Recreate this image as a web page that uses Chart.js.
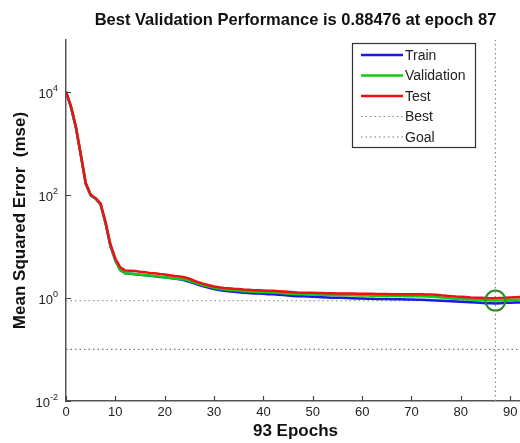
<!DOCTYPE html>
<html>
<head>
<meta charset="utf-8">
<script src="https://cdn.jsdelivr.net/npm/chart.js@4.4.1/dist/chart.umd.min.js"></script>
<style>
  html, body { margin: 0; padding: 0; background: #fff; overflow: hidden; }
  #wrap { width: 520px; height: 443px; overflow: hidden; }
</style>
</head>
<body>
<div id="wrap"><canvas id="perfChart" width="540" height="443"></canvas></div>
<script>
// --- dados ---
const titleText = 'Best Validation Performance is 0.88476 at epoch 87';
const xTitle = '93 Epochs';
const yTitle = 'Mean Squared Error  (mse)';

const epochs = Array.from({ length: 94 }, (_, i) => i);
const xTicks = [0, 10, 20, 30, 40, 50, 60, 70, 80, 90];
const yTickValues = [0.01, 1, 100, 10000];
const yTickExponents = ['-2', '0', '2', '4'];

const trainMse = [
  9800, 5000, 2000, 580, 160, 97, 84, 65, 28, 10,
  5.3, 3.45, 2.98, 2.92, 2.87, 2.8, 2.75, 2.68, 2.62, 2.55,
  2.5, 2.43, 2.36, 2.3, 2.2, 2.05, 1.92, 1.78, 1.66, 1.56,
  1.48, 1.42, 1.38, 1.34, 1.31, 1.29, 1.26, 1.24, 1.22, 1.21,
  1.2, 1.18, 1.17, 1.15, 1.13, 1.11, 1.09, 1.08, 1.07, 1.06,
  1.05, 1.04, 1.03, 1.02, 1.01, 1.0, 1.0, 0.99, 0.98, 0.97,
  0.97, 0.96, 0.96, 0.95, 0.95, 0.95, 0.94, 0.94, 0.94, 0.93,
  0.93, 0.92, 0.92, 0.91, 0.9, 0.89, 0.88, 0.87, 0.86, 0.85,
  0.84, 0.83, 0.82, 0.81, 0.8, 0.79, 0.79, 0.78, 0.79, 0.8,
  0.8, 0.81, 0.81, 0.82
];

const validationMse = [
  10000, 5100, 2050, 590, 165, 98, 85, 66, 29, 10.5,
  5.4, 3.5, 3.0, 2.95, 2.9, 2.82, 2.78, 2.7, 2.65, 2.58,
  2.52, 2.45, 2.38, 2.33, 2.28, 2.15, 2.0, 1.85, 1.74, 1.65,
  1.56, 1.5, 1.46, 1.42, 1.4, 1.38, 1.35, 1.33, 1.31, 1.3,
  1.29, 1.28, 1.27, 1.25, 1.23, 1.21, 1.19, 1.18, 1.17, 1.16,
  1.16, 1.15, 1.15, 1.14, 1.14, 1.13, 1.13, 1.12, 1.12, 1.11,
  1.11, 1.11, 1.1, 1.1, 1.1, 1.09, 1.09, 1.09, 1.09, 1.08,
  1.08, 1.08, 1.07, 1.06, 1.05, 1.04, 1.02, 0.99, 0.97, 0.96,
  0.95, 0.94, 0.93, 0.92, 0.91, 0.9, 0.89, 0.88476, 0.89, 0.9,
  0.91, 0.92, 0.93, 0.94
];

const testMse = [
  10000, 5200, 2100, 600, 170, 100, 86, 68, 30, 11,
  5.8, 3.9, 3.4, 3.35, 3.3, 3.2, 3.15, 3.05, 3.0, 2.9,
  2.85, 2.75, 2.65, 2.6, 2.5, 2.35, 2.15, 1.98, 1.85, 1.75,
  1.66, 1.6, 1.56, 1.53, 1.5, 1.48, 1.45, 1.43, 1.41, 1.4,
  1.39, 1.38, 1.37, 1.35, 1.33, 1.31, 1.29, 1.27, 1.26, 1.25,
  1.25, 1.24, 1.24, 1.23, 1.23, 1.22, 1.22, 1.21, 1.21, 1.2,
  1.2, 1.2, 1.2, 1.19, 1.19, 1.19, 1.18, 1.18, 1.18, 1.18,
  1.17, 1.17, 1.17, 1.16, 1.16, 1.15, 1.12, 1.1, 1.08, 1.06,
  1.05, 1.04, 1.02, 1.01, 1.0, 0.99, 0.98, 0.98, 0.99, 1.0,
  1.02, 1.03, 1.04, 1.05
];

const bestEpoch = 87;
const bestPerf = 0.88476;
const goalPerf = 0.1;
const yMin = 0.01;
const yMax = 100000;
const xMax = 93;

const legendNames = ['Train', 'Validation', 'Test', 'Best', 'Goal'];

// monta os pontos {x,y}
function pts(values) {
  return values.map((v, i) => ({ x: epochs[i], y: v }));
}

const FONT = "'Liberation Sans', Arial, sans-serif";

// título centrado na área do gráfico
const titlePlugin = {
  id: 'titlePlugin',
  afterDraw(chart) {
    const { ctx, chartArea } = chart;
    ctx.save();
    ctx.fillStyle = '#111';
    ctx.font = 'bold 16.5px ' + FONT;
    ctx.textAlign = 'center';
    ctx.textBaseline = 'middle';
    ctx.fillText(titleText, (chartArea.left + chartArea.right) / 2, 20);
    ctx.restore();
  }
};

// ticks para dentro + rótulos 10^n com expoente
const innerTicks = {
  id: 'innerTicks',
  afterDraw(chart) {
    const { ctx, chartArea, scales } = chart;
    ctx.save();
    ctx.strokeStyle = '#444';
    ctx.lineWidth = 1.2;
    ctx.beginPath();
    scales.x.ticks.forEach(t => {
      const px = Math.round(scales.x.getPixelForValue(t.value)) + 0.5;
      ctx.moveTo(px, chartArea.bottom);
      ctx.lineTo(px, chartArea.bottom - 5);
    });
    scales.y.ticks.forEach(t => {
      const py = Math.round(scales.y.getPixelForValue(t.value)) + 0.5;
      ctx.moveTo(chartArea.left, py);
      ctx.lineTo(chartArea.left + 5, py);
    });
    ctx.stroke();

    // rótulos do eixo y
    ctx.fillStyle = '#222';
    ctx.textBaseline = 'alphabetic';
    yTickValues.forEach((v, i) => {
      const py = scales.y.getPixelForValue(v);
      const exp = yTickExponents[i];
      ctx.font = '9px ' + FONT;
      const ew = ctx.measureText(exp).width;
      const xr = chartArea.left - 8;
      ctx.textAlign = 'right';
      ctx.fillText(exp, xr, py - 1);
      ctx.font = '13px ' + FONT;
      ctx.fillText('10', xr - ew, py + 6);
    });
    ctx.restore();
  }
};

// legenda em caixa dentro do gráfico
const boxLegend = {
  id: 'boxLegend',
  afterDraw(chart) {
    const { ctx } = chart;
    const x0 = 352, y0 = 43, w = 123, h = 104;
    ctx.save();
    ctx.fillStyle = '#fff';
    ctx.fillRect(x0, y0, w, h);
    ctx.strokeStyle = '#333';
    ctx.lineWidth = 1.2;
    ctx.strokeRect(x0 + 0.5, y0 + 0.5, w, h);
    ctx.font = '14px ' + FONT;
    ctx.textBaseline = 'middle';
    ctx.textAlign = 'left';
    legendNames.forEach((name, i) => {
      const ds = chart.data.datasets.find(d => d.label === name);
      const y = y0 + 12 + i * 20.5;
      ctx.beginPath();
      ctx.setLineDash(ds.borderDash || []);
      ctx.strokeStyle = ds.legendColor || ds.borderColor;
      ctx.lineWidth = ds.borderDash ? 1.2 : 2.5;
      ctx.moveTo(361, y);
      ctx.lineTo(403, y);
      ctx.stroke();
      ctx.setLineDash([]);
      ctx.fillStyle = '#222';
      ctx.fillText(name, 405, y + 1);
    });
    ctx.restore();
  }
};

const ctx = document.getElementById('perfChart').getContext('2d');
const perfChart = new Chart(ctx, {
  type: 'line',
  data: {
    datasets: [
      {
        label: 'bestCircle', type: 'scatter',
        data: [{ x: bestEpoch, y: bestPerf }],
        pointRadius: 10, pointBorderWidth: 2,
        pointBorderColor: '#2a8a2a', pointBackgroundColor: 'rgba(0,0,0,0)',
        order: -1
      },
      { label: 'Test', data: pts(testMse), borderColor: '#ee1111', borderWidth: 2.5, order: 0 },
      { label: 'Validation', data: pts(validationMse), borderColor: '#11cc11', borderWidth: 2.5, order: 1 },
      { label: 'Train', data: pts(trainMse), borderColor: '#1a1ae0', borderWidth: 2.5, order: 2 },
      {
        label: 'Best', data: [{ x: 0, y: bestPerf }, { x: xMax, y: bestPerf }],
        borderColor: '#8aa88a', legendColor: '#888', borderWidth: 1.2, borderDash: [1.5, 3], order: 3
      },
      {
        label: 'bestVertical', data: [{ x: bestEpoch, y: yMin }, { x: bestEpoch, y: yMax }],
        borderColor: '#6aa86a', borderWidth: 1.2, borderDash: [1.5, 3], order: 3
      },
      {
        label: 'Goal', data: [{ x: 0, y: goalPerf }, { x: xMax, y: goalPerf }],
        borderColor: '#777', borderWidth: 1.2, borderDash: [1.5, 3], order: 3
      }
    ]
  },
  options: {
    responsive: false,
    animation: false,
    devicePixelRatio: 1,
    elements: { point: { radius: 0 }, line: { tension: 0 } },
    layout: { padding: { top: 40, right: 15, left: 0, bottom: 0 } },
    plugins: { legend: { display: false }, tooltip: { enabled: false } },
    scales: {
      x: {
        type: 'linear', min: 0, max: xMax,
        afterBuildTicks: s => { s.ticks = xTicks.map(v => ({ value: v })); },
        afterFit: s => { s.height = 42; },
        grid: { display: true, drawOnChartArea: false, drawTicks: false },
        border: { display: true, color: '#555', width: 1.5 },
        ticks: { autoSkip: false, maxRotation: 0, padding: 4, color: '#222', font: { family: FONT, size: 13 } },
        title: { display: true, text: xTitle, color: '#111', padding: { top: 0, bottom: 1 }, font: { family: FONT, size: 17, weight: 'bold' } }
      },
      y: {
        type: 'logarithmic', min: yMin, max: yMax,
        afterBuildTicks: s => { s.ticks = yTickValues.map(v => ({ value: v })); },
        afterFit: s => { s.width = 66; },
        grid: { display: true, drawOnChartArea: false, drawTicks: false },
        border: { display: true, color: '#555', width: 1.5 },
        ticks: { display: false },
        title: { display: true, text: yTitle, color: '#111', padding: { top: 10, bottom: 0 }, font: { family: FONT, size: 17, weight: 'bold' } }
      }
    }
  },
  plugins: [titlePlugin, innerTicks, boxLegend]
});
</script>
</body>
</html>
